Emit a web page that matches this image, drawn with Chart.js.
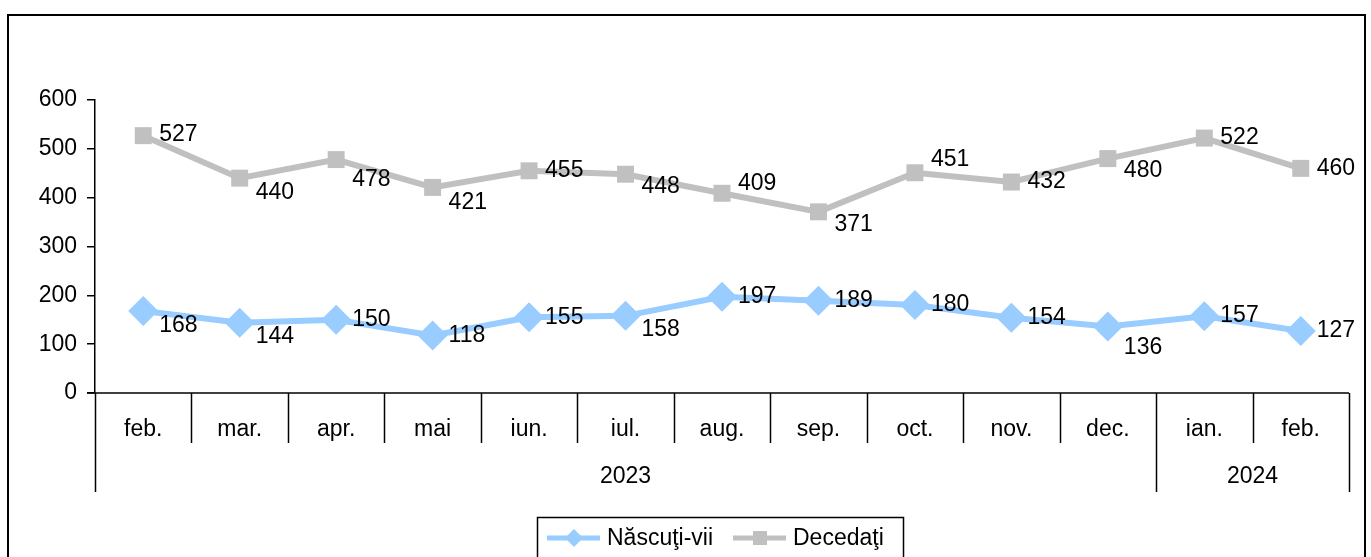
<!DOCTYPE html>
<html>
<head>
<meta charset="utf-8">
<script src="https://cdn.jsdelivr.net/npm/chart.js@4/dist/chart.umd.min.js"></script>
<style>
  html, body { margin: 0; padding: 0; background: #fff; }
  #wrap { width: 1371px; height: 557px; }
</style>
</head>
<body>
<div id="wrap"><canvas id="lineChart" width="1371" height="557"></canvas></div>
<script>
// categories (months) and their year groups
var months = ['feb.', 'mar.', 'apr.', 'mai', 'iun.', 'iul.', 'aug.', 'sep.', 'oct.', 'nov.', 'dec.', 'ian.', 'feb.'];
var yearGroups = [
    { label: '2023', from: 0, to: 10 },
    { label: '2024', from: 11, to: 12 }
];

// series values
var nascutiVii = [168, 144, 150, 118, 155, 158, 197, 189, 180, 154, 136, 157, 127];
var decedati = [527, 440, 478, 421, 455, 448, 409, 371, 451, 432, 480, 522, 460];

// vertical nudges of the value labels (pixels), as placed in the original
var nascutiDy = [15, 14, 0, 0, 0, 14, 0, 0, 0, 0, 21, -1, 0];
var decedatiDy = [-1, 15, 20, 15, 0, 12, -10, 13, -13, 0, 12, 0, 0];

var FONT = '"Liberation Sans", Arial, sans-serif';
var FS = 23;

document.addEventListener('DOMContentLoaded', function () {
    var ctx = document.getElementById('lineChart').getContext('2d');

    // value labels to the right of each point
    var valueLabels = {
        id: 'valueLabels',
        afterDatasetsDraw: function (chart) {
            var c = chart.ctx;
            c.save();
            c.font = FS + 'px ' + FONT;
            c.fillStyle = '#000';
            c.textBaseline = 'middle';
            c.textAlign = 'left';
            chart.data.datasets.forEach(function (ds, i) {
                var meta = chart.getDatasetMeta(i);
                meta.data.forEach(function (pt, j) {
                    c.fillText(String(ds.data[j]), pt.x + 16, pt.y + ds.labelDy[j]);
                });
            });
            c.restore();
        }
    };

    // two-level category axis, frame and legend box
    var frame = {
        id: 'frame',
        afterDraw: function (chart) {
            var c = chart.ctx;
            var area = chart.chartArea;
            var n = months.length;
            var w = (area.right - area.left) / n;
            var y0 = area.bottom;
            c.save();
            c.strokeStyle = '#000';
            c.lineWidth = 1.5;

            // x axis line
            c.beginPath();
            c.moveTo(area.left - 8, y0);
            c.lineTo(area.right, y0);
            c.stroke();

            // category dividers
            var longAt = [0, n];
            yearGroups.forEach(function (g) { longAt.push(g.from); });
            for (var k = 0; k <= n; k++) {
                var x = Math.round(area.left + k * w) + 0.5;
                var isLong = longAt.indexOf(k) >= 0;
                c.beginPath();
                c.moveTo(x, y0);
                c.lineTo(x, isLong ? y0 + 99 : y0 + 50);
                c.stroke();
            }

            c.fillStyle = '#000';
            c.font = FS + 'px ' + FONT;
            c.textAlign = 'center';
            c.textBaseline = 'middle';
            months.forEach(function (m, k) {
                c.fillText(m, area.left + (k + 0.5) * w, y0 + 37);
            });
            yearGroups.forEach(function (g) {
                var cx = area.left + ((g.from + g.to + 1) / 2) * w;
                c.fillText(g.label, cx, y0 + 84);
            });

            // outer frame
            c.lineWidth = 2;
            c.strokeRect(8, 15, 1357, 560);

            // legend box
            c.lineWidth = 1.5;
            c.strokeRect(537.5, 517.5, 366, 60);
            c.textAlign = 'left';
            var items = chart.data.datasets;
            var lx = [547, 733];
            items.forEach(function (ds, i) {
                var x = lx[i];
                var ly = 538;
                c.strokeStyle = ds.borderColor;
                c.lineWidth = 5;
                c.beginPath();
                c.moveTo(x, ly);
                c.lineTo(x + 53, ly);
                c.stroke();
                c.fillStyle = ds.borderColor;
                var mx = x + 27;
                c.beginPath();
                if (ds.pointStyle === 'rectRot') {
                    c.moveTo(mx, ly - 9);
                    c.lineTo(mx + 9, ly);
                    c.lineTo(mx, ly + 9);
                    c.lineTo(mx - 9, ly);
                    c.closePath();
                } else {
                    c.rect(mx - 7, ly - 7, 14, 14);
                }
                c.fill();
                c.fillStyle = '#000';
                c.font = FS + 'px ' + FONT;
                c.fillText(ds.label, x + 60, ly + 1);
            });
            c.restore();
        }
    };

    new Chart(ctx, {
        type: 'line',
        data: {
            labels: months,
            datasets: [{
                label: 'Născuţi-vii',
                data: nascutiVii,
                labelDy: nascutiDy,
                borderColor: '#99CCFF',
                backgroundColor: '#99CCFF',
                borderWidth: 6,
                pointStyle: 'rectRot',
                pointRadius: 15,
                pointHoverRadius: 15,
                pointBorderWidth: 0,
                fill: false,
                tension: 0
            }, {
                label: 'Decedaţi',
                data: decedati,
                labelDy: decedatiDy,
                borderColor: '#C0C0C0',
                backgroundColor: '#C0C0C0',
                borderWidth: 6,
                pointStyle: 'rect',
                pointRadius: 12,
                pointHoverRadius: 12,
                pointBorderWidth: 0,
                fill: false,
                tension: 0
            }]
        },
        options: {
            responsive: false,
            animation: false,
            layout: { padding: { left: 8, right: 22, top: 100, bottom: 164 } },
            plugins: {
                legend: { display: false },
                tooltip: { enabled: false }
            },
            scales: {
                x: {
                    display: false,
                    offset: true
                },
                y: {
                    min: 0,
                    max: 600,
                    afterFit: function (scale) { scale.width = 87; },
                    ticks: {
                        stepSize: 100,
                        padding: 10,
                        color: '#000',
                        font: { family: FONT, size: FS }
                    },
                    grid: {
                        drawOnChartArea: false,
                        tickLength: 8,
                        color: '#000',
                        lineWidth: 1.5
                    },
                    border: { display: true, color: '#000', width: 1.5 }
                }
            }
        },
        plugins: [valueLabels, frame]
    });
});
</script>
</body>
</html>
